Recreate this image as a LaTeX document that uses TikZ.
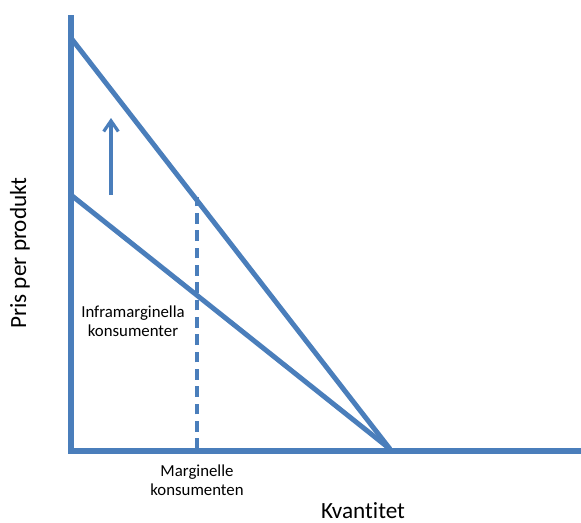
\documentclass[tikz,border=0pt]{standalone}
\usepackage{fontspec}
\setmainfont{Carlito}[Ligatures=NoCommon]
\usetikzlibrary{arrows.meta}
\definecolor{kurvblaa}{RGB}{74,126,187}

\begin{document}
\begin{tikzpicture}[x=0.75pt,y=-0.75pt,
    axel/.style={kurvblaa, line width=4.4pt},
    kurva/.style={kurvblaa, line width=3.7pt},
    streckad/.style={kurvblaa, line width=2.4pt, dash pattern=on 8pt off 5pt},
    pil/.style={kurvblaa, line width=2.4pt, -{Straight Barb[length=8pt,width=11pt]}},
    liten/.style={font=\fontsize{12.6}{14.2}\selectfont, align=center, inner sep=0pt},
    stor/.style={font=\fontsize{17.4}{20}\selectfont, inner sep=0pt}]
\useasboundingbox (0,0) rectangle (581,522);

% axes
\coordinate (ytop) at (71,15);
\coordinate (origo) at (71,451);
\coordinate (xend) at (581,451);
\draw[axel] (ytop) -- (origo) -- (xend);

% demand curves
\coordinate (hoeg) at (71,38);
\coordinate (laag) at (71,195);
\coordinate (kvant) at (390,449);
\draw[kurva] (hoeg) -- (kvant);
\draw[kurva] (laag) -- (kvant);

% marginal consumer
\coordinate (marg) at (197,449);
\coordinate (margtopp) at (197,197);
\draw[streckad] (marg) -- (margtopp);

% shift upwards
\coordinate (pilfot) at (111,195);
\coordinate (piltopp) at (111,118);
\draw[pil] (pilfot) -- (piltopp);

% labels
\node[liten] (infra) at (133,321) {Inframarginella\\konsumenter};
\node[liten] (margtext) at (197,480) {Marginelle\\konsumenten};
\node[stor] (kvtext) at (363,511) {Kvantitet};
\node[stor, rotate=90] (pristext) at (20,253) {Pris per produkt};

\end{tikzpicture}
\end{document}
